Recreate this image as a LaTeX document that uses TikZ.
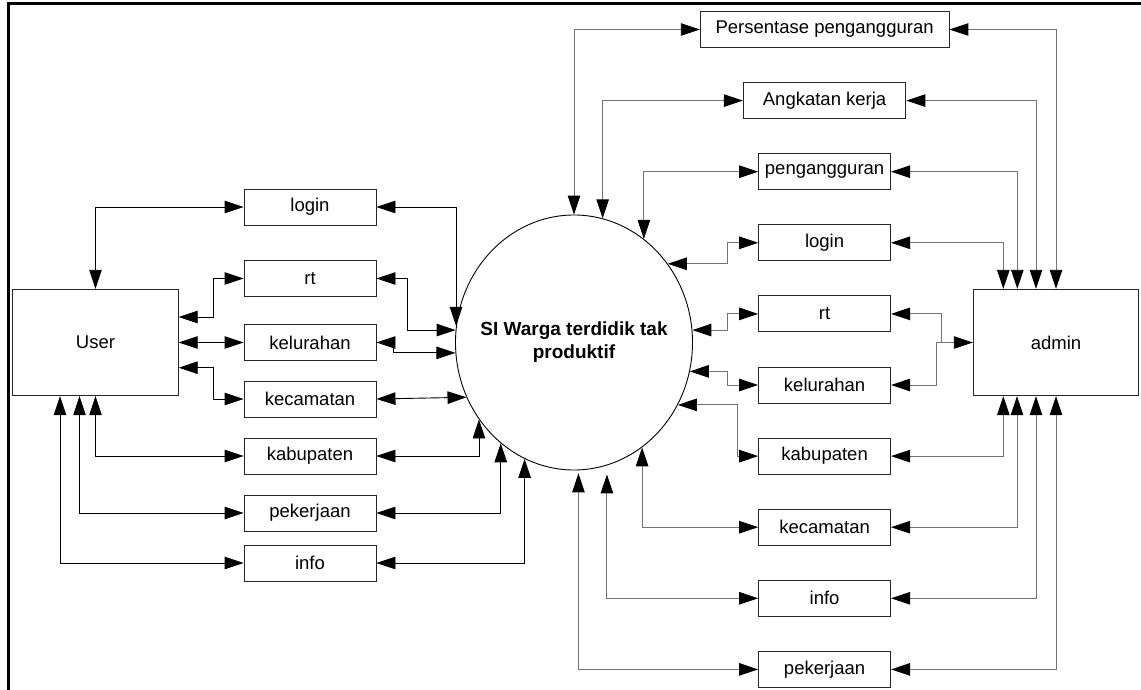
\documentclass[tikz,border=0pt]{standalone}
\usepackage{fontspec}
\setmainfont{Liberation Sans}
\usetikzlibrary{arrows.meta,positioning,shapes.geometric}

\begin{document}
\begin{tikzpicture}[
    x=1pt, y=-1pt,
    node distance=34.2pt,
    font=\fontsize{18.5}{22}\selectfont,
    >={Triangle[length=19pt,width=12.5pt,color=black]},
    proc/.style={rectangle, draw=black!85, line width=0.9pt, inner sep=0pt,
                 minimum width=132pt, minimum height=36pt},
    ent/.style={rectangle, draw=black!85, line width=0.9pt,
                minimum width=165.5pt, minimum height=106.5pt},
    sysproc/.style={ellipse, draw=black, line width=0.9pt, inner sep=0pt,
                    minimum width=237pt, minimum height=255pt},
    flow/.style={<->, line width=0.9pt},
    rflow/.style={flow, draw=black!55}
]
\useasboundingbox (0,0) rectangle (1141,690);
\draw[line width=3pt] (8.5,690) -- (8.5,4) -- (1141,4);

\node[ent] (user) at (95.5,342.5) {User};
\node[ent] (admin) at (1056,342.5) {admin};
\node[sysproc, label={[align=center, font=\fontsize{19}{23}\selectfont\bfseries]center:SI Warga terdidik tak\\produktif}] (sys) at (574,342.5) {};

\node[proc] (llogin) at (310,207) {login};
\node[proc, below=34.6pt of llogin] (lrt) {rt};
\node[proc, below=27.1pt of lrt] (lkel) {kelurahan};
\node[proc, below=19.6pt of lkel] (lkec) {kecamatan};
\node[proc, below=20.1pt of lkec] (lkab) {kabupaten};
\node[proc, below=20.1pt of lkab] (lpek) {pekerjaan};
\node[proc, below=13.1pt of lpek] (linfo) {info};

\node[proc, minimum width=248.7pt] (rpers) at (824.6,29.5) {Persentase pengangguran};
\node[proc, minimum width=162.6pt, below=of rpers] (rangk) {Angkatan kerja};
\node[proc, below=of rangk] (rpeng) {pengangguran};
\node[proc, below=of rpeng] (rlogin) {login};
\node[proc, below=of rlogin] (rrt) {rt};
\node[proc, below=of rrt] (rkel) {kelurahan};
\node[proc, below=of rkel] (rkab) {kabupaten};
\node[proc, below=of rkab] (rkec) {kecamatan};
\node[proc, below=of rkec] (rinfo) {info};
\node[proc, below=of rinfo] (rpek) {pekerjaan};

\draw[flow] (user.north) |- (llogin.west);
\draw[flow] ([yshift=25.5pt]user.east) -- ++(34.5,0) |- (lrt.west);
\draw[flow] (user.east) -- (lkel.west);
\draw[flow] ([yshift=-25.2pt]user.east) -- ++(34.5,0) |- (lkec.west);
\draw[flow] (user.south) |- (lkab.west);
\draw[flow] ([xshift=-16pt]user.south) |- (lpek.west);
\draw[flow] ([xshift=-35.5pt]user.south) |- (linfo.west);

\draw[flow] (llogin.east) -| (sys.172);
\draw[flow] (lrt.east) -- ++(31,0) |- (sys.174.9);
\draw[flow] (lkel.east) -- ++(17.3,0) |- (sys.185);
\draw[flow] (lkec.east) -- (sys.207.6);
\draw[flow] (lkab.east) -| (sys.219);
\draw[flow] (lpek.east) -| (sys.234.4);
\draw[flow] (linfo.east) -| (sys.247.1);

\draw[rflow] (rpers.west) -| (sys.90.7);
\draw[rflow] (rangk.west) -| (sys.77.6);
\draw[rflow] (rpeng.west) -| (sys.56.8);
\draw[rflow] (rlogin.west) -- ++(-31,0) |- (sys.40.45);
\draw[rflow] (rrt.west) -- ++(-31,0) |- (sys.6.05);
\draw[rflow] (rkel.west) -- ++(-31,0) |- (sys.346.14);
\draw[rflow] (rkab.west) -- ++(-20.3,0) |- (sys.329.2);
\draw[rflow] (rkec.west) -| (sys.303.8);
\draw[rflow, shorten >=9pt] (rinfo.west) -| (sys.285.2);
\draw[rflow, shorten >=3pt] (rpek.west) -| (sys.272.1);

\draw[rflow] (rpers.east) -| (admin.north);
\draw[rflow] (rangk.east) -| ([xshift=-20pt]admin.north);
\draw[rflow] (rpeng.east) -| ([xshift=-38.7pt]admin.north);
\draw[rflow] (rlogin.east) -| ([xshift=-52.7pt]admin.north);
\draw[rflow, <-] (rrt.east) -| ([xshift=-31.3pt]admin.west);
\draw[rflow] (rkel.east) -| ([xshift=-36pt]admin.west) -- (admin.west);
\draw[rflow] (rkab.east) -| ([xshift=-52.7pt]admin.south);
\draw[rflow] (rkec.east) -| ([xshift=-39pt]admin.south);
\draw[rflow] (rinfo.east) -| ([xshift=-20pt]admin.south);
\draw[rflow] (rpek.east) -| (admin.south);
\end{tikzpicture}
\end{document}
